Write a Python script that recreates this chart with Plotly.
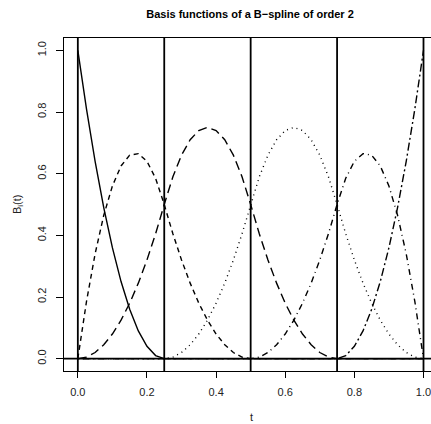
import plotly.graph_objects as go

# sample points of t
t = [0.0, 0.025, 0.05, 0.075, 0.1, 0.125, 0.15, 0.175, 0.2, 0.225,
     0.25, 0.275, 0.3, 0.325, 0.35, 0.375, 0.4, 0.425, 0.45, 0.475,
     0.5, 0.525, 0.55, 0.575, 0.6, 0.625, 0.65, 0.675, 0.7, 0.725,
     0.75, 0.775, 0.8, 0.825, 0.85, 0.875, 0.9, 0.925, 0.95, 0.975, 1.0]

B1 = [1.0, 0.81, 0.64, 0.49, 0.36, 0.25, 0.16, 0.09, 0.04, 0.01, 0.0] + [0.0] * 30
B2 = [0.0, 0.185, 0.34, 0.465, 0.56, 0.625, 0.66, 0.665, 0.64, 0.585, 0.5,
      0.405, 0.32, 0.245, 0.18, 0.125, 0.08, 0.045, 0.02, 0.005, 0.0] + [0.0] * 20
B3 = [0.0, 0.005, 0.02, 0.045, 0.08, 0.125, 0.18, 0.245, 0.32, 0.405, 0.5,
      0.59, 0.66, 0.71, 0.74, 0.75, 0.74, 0.71, 0.66, 0.59, 0.5,
      0.405, 0.32, 0.245, 0.18, 0.125, 0.08, 0.045, 0.02, 0.005, 0.0] + [0.0] * 10
B4 = [0.0] * 10 + [0.0, 0.005, 0.02, 0.045, 0.08, 0.125, 0.18, 0.245, 0.32, 0.405, 0.5,
                   0.59, 0.66, 0.71, 0.74, 0.75, 0.74, 0.71, 0.66, 0.59, 0.5,
                   0.405, 0.32, 0.245, 0.18, 0.125, 0.08, 0.045, 0.02, 0.005, 0.0]
B5 = [0.0] * 20 + [0.0, 0.005, 0.02, 0.045, 0.08, 0.125, 0.18, 0.245, 0.32, 0.405, 0.5,
                   0.585, 0.64, 0.665, 0.66, 0.625, 0.56, 0.465, 0.34, 0.185, 0.0]
B6 = [0.0] * 30 + [0.0, 0.01, 0.04, 0.09, 0.16, 0.25, 0.36, 0.49, 0.64, 0.81, 1.0]

knots = [0.0, 0.25, 0.5, 0.75, 1.0]
tick_vals = [0.0, 0.2, 0.4, 0.6, 0.8, 1.0]
tick_text = ["0.0", "0.2", "0.4", "0.6", "0.8", "1.0"]

series = [B1, B2, B3, B4, B5, B6]
dashes = ["solid", "5px,4px", "9px,5px", "1px,4px", "1px,4px,6px,4px", "2px,3px,8px,3px"]

FONT = "Liberation Sans, Arial, Helvetica, sans-serif"

fig = go.Figure()
for ys, d in zip(series, dashes):
    fig.add_trace(go.Scatter(x=t, y=ys, mode="lines",
                             line=dict(color="black", width=1.4, dash=d),
                             showlegend=False, hoverinfo="skip"))

shapes = []
for k in knots:
    shapes.append(dict(type="line", xref="x", yref="paper", x0=k, x1=k, y0=0, y1=1,
                       line=dict(color="black", width=1.8)))
shapes.append(dict(type="line", xref="paper", yref="y", x0=0, x1=1, y0=0, y1=0,
                   line=dict(color="black", width=1.8)))

fig.update_layout(
    width=431, height=424,
    margin=dict(l=64, r=0, t=38, b=53),
    paper_bgcolor="white", plot_bgcolor="white",
    font=dict(family=FONT, size=11, color="#222"),
    shapes=shapes,
    title=dict(text="<b>Basis functions of a B\u2212spline of order 2</b>",
               x=250 / 431, xanchor="center", xref="container",
               y=1 - 14 / 424, yanchor="middle", yref="container",
               font=dict(family=FONT, size=11, color="black")),
    xaxis=dict(range=[-0.04, 1.0217], showgrid=False, zeroline=False,
               showline=True, linecolor="black", linewidth=1, mirror=True,
               ticks="outside", ticklen=6, tickcolor="black",
               tickvals=tick_vals, ticktext=tick_text, ticklabelstandoff=5,
               ticklabeloverflow="allow"),
    yaxis=dict(range=[-0.04, 1.04], showgrid=False, zeroline=False,
               showline=True, linecolor="black", linewidth=1,
               ticks="outside", ticklen=7, tickcolor="black", tickangle=-90,
               tickvals=tick_vals, ticktext=tick_text, ticklabelstandoff=6,
               ticklabeloverflow="allow"),
    annotations=[
        dict(text="t", xref="paper", yref="paper", x=(251 - 64) / 367,
             y=(371 - 417) / 333, showarrow=False, xanchor="center", yanchor="middle",
             font=dict(family=FONT, size=11, color="#222")),
        dict(text="B<sub>i</sub>(t)", xref="paper", yref="paper", x=(18 - 64) / 367,
             y=(371 - 205) / 333, showarrow=False, textangle=-90,
             xanchor="center", yanchor="middle",
             font=dict(family=FONT, size=11, color="#222")),
    ],
)

fig.write_html("out.html")
